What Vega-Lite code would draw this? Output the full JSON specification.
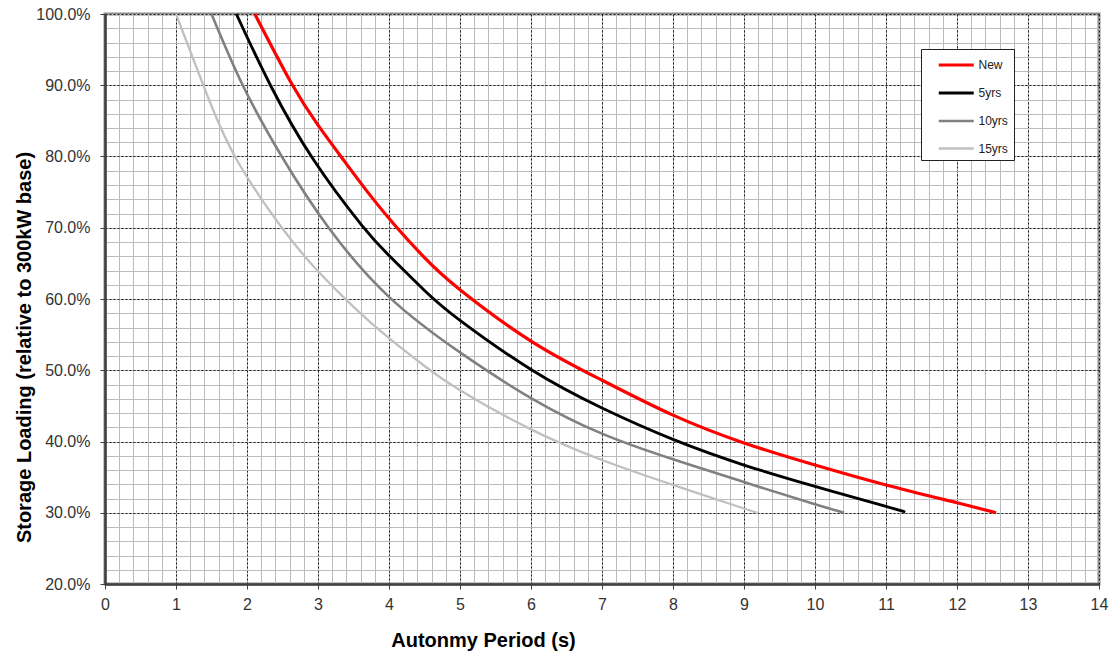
{
  "$schema": "https://vega.github.io/schema/vega-lite/v6.json",
  "width": 994,
  "height": 570,
  "autosize": {"type": "none"},
  "padding": {"left": 105, "top": 14, "right": 15, "bottom": 71},
  "background": "white",
  "config": {
    "font": "Liberation Sans",
    "view": {"stroke": "#8c8c8c", "strokeWidth": 3}
  },
  "data": {
    "values": [
      {"x": 2.11, "y": 1.0, "s": "New"},
      {"x": 2.63, "y": 0.902, "s": "New"},
      {"x": 3.0, "y": 0.844, "s": "New"},
      {"x": 3.36, "y": 0.795, "s": "New"},
      {"x": 3.7, "y": 0.75, "s": "New"},
      {"x": 4.07, "y": 0.705, "s": "New"},
      {"x": 4.5, "y": 0.658, "s": "New"},
      {"x": 5.0, "y": 0.613, "s": "New"},
      {"x": 6.0, "y": 0.541, "s": "New"},
      {"x": 7.0, "y": 0.486, "s": "New"},
      {"x": 8.0, "y": 0.437, "s": "New"},
      {"x": 9.0, "y": 0.398, "s": "New"},
      {"x": 10.0, "y": 0.367, "s": "New"},
      {"x": 11.0, "y": 0.339, "s": "New"},
      {"x": 12.0, "y": 0.314, "s": "New"},
      {"x": 12.55, "y": 0.3, "s": "New"},
      {"x": 1.85, "y": 1.0, "s": "5yrs"},
      {"x": 2.33, "y": 0.9, "s": "5yrs"},
      {"x": 2.94, "y": 0.795, "s": "5yrs"},
      {"x": 3.62, "y": 0.703, "s": "5yrs"},
      {"x": 4.0, "y": 0.661, "s": "5yrs"},
      {"x": 4.5, "y": 0.612, "s": "5yrs"},
      {"x": 5.0, "y": 0.57, "s": "5yrs"},
      {"x": 6.0, "y": 0.501, "s": "5yrs"},
      {"x": 7.0, "y": 0.447, "s": "5yrs"},
      {"x": 8.0, "y": 0.403, "s": "5yrs"},
      {"x": 9.0, "y": 0.367, "s": "5yrs"},
      {"x": 10.0, "y": 0.337, "s": "5yrs"},
      {"x": 11.0, "y": 0.309, "s": "5yrs"},
      {"x": 11.27, "y": 0.301, "s": "5yrs"},
      {"x": 1.5, "y": 1.0, "s": "10yrs"},
      {"x": 1.94, "y": 0.9, "s": "10yrs"},
      {"x": 2.49, "y": 0.8, "s": "10yrs"},
      {"x": 3.15, "y": 0.7, "s": "10yrs"},
      {"x": 4.0, "y": 0.603, "s": "10yrs"},
      {"x": 5.0, "y": 0.525, "s": "10yrs"},
      {"x": 6.0, "y": 0.461, "s": "10yrs"},
      {"x": 7.0, "y": 0.411, "s": "10yrs"},
      {"x": 8.0, "y": 0.375, "s": "10yrs"},
      {"x": 9.0, "y": 0.343, "s": "10yrs"},
      {"x": 10.0, "y": 0.312, "s": "10yrs"},
      {"x": 10.41, "y": 0.3, "s": "10yrs"},
      {"x": 1.0, "y": 1.0, "s": "15yrs"},
      {"x": 1.385, "y": 0.9, "s": "15yrs"},
      {"x": 1.83, "y": 0.8, "s": "15yrs"},
      {"x": 2.5, "y": 0.699, "s": "15yrs"},
      {"x": 3.0, "y": 0.639, "s": "15yrs"},
      {"x": 3.5, "y": 0.589, "s": "15yrs"},
      {"x": 4.0, "y": 0.545, "s": "15yrs"},
      {"x": 4.5, "y": 0.506, "s": "15yrs"},
      {"x": 5.0, "y": 0.472, "s": "15yrs"},
      {"x": 6.0, "y": 0.417, "s": "15yrs"},
      {"x": 7.0, "y": 0.374, "s": "15yrs"},
      {"x": 8.0, "y": 0.339, "s": "15yrs"},
      {"x": 9.0, "y": 0.306, "s": "15yrs"},
      {"x": 9.18, "y": 0.3, "s": "15yrs"}
    ]
  },
  "layer": [
    {
      "mark": {"type": "line", "opacity": 0},
      "encoding": {
        "x": {
          "field": "x", "type": "quantitative",
          "scale": {"domain": [0, 14], "nice": false, "zero": false},
          "axis": {
            "orient": "top", "grid": true, "gridColor": "#bcbcbc", "gridWidth": 1,
            "labels": false, "ticks": false, "domain": false, "title": null,
            "values": [0,0.2,0.4,0.6,0.8,1,1.2,1.4,1.6,1.8,2,2.2,2.4,2.6,2.8,3,3.2,3.4,3.6,3.8,4,4.2,4.4,4.6,4.8,5,5.2,5.4,5.6,5.8,6,6.2,6.4,6.6,6.8,7,7.2,7.4,7.6,7.8,8,8.2,8.4,8.6,8.8,9,9.2,9.4,9.6,9.8,10,10.2,10.4,10.6,10.8,11,11.2,11.4,11.6,11.8,12,12.2,12.4,12.6,12.8,13,13.2,13.4,13.6,13.8,14]
          }
        },
        "y": {
          "field": "y", "type": "quantitative",
          "scale": {"domain": [0.2, 1.0], "nice": false, "zero": false},
          "axis": {
            "orient": "right", "grid": true, "gridColor": "#bcbcbc", "gridWidth": 1,
            "labels": false, "ticks": false, "domain": false, "title": null,
            "values": [0.2,0.22,0.24,0.26,0.28,0.3,0.32,0.34,0.36,0.38,0.4,0.42,0.44,0.46,0.48,0.5,0.52,0.54,0.56,0.58,0.6,0.62,0.64,0.66,0.68,0.7,0.72,0.74,0.76,0.78,0.8,0.82,0.84,0.86,0.88,0.9,0.92,0.94,0.96,0.98,1.0]
          }
        },
        "detail": {"field": "s"}
      }
    },
    {
      "mark": {"type": "line", "interpolate": "natural", "strokeCap": "butt"},
      "encoding": {
        "x": {
          "field": "x", "type": "quantitative",
          "axis": {
            "orient": "bottom", "values": [0,1,2,3,4,5,6,7,8,9,10,11,12,13,14], "format": "d",
            "grid": true, "gridColor": "#1a1a1a", "gridDash": [2, 2], "gridWidth": 1,
            "domainColor": "#404040", "domainWidth": 2.5,
            "tickColor": "#404040", "tickSize": 5, "tickWidth": 1,
            "labelFontSize": 16, "labelColor": "#333333", "labelBaseline": "alphabetic",
            "labelPadding": 20, "labelFlush": false, "labelOverlap": false,
            "title": "Autonmy Period (s)", "titleFontSize": 20, "titleFontWeight": "bold",
            "titleColor": "#000000", "titleX": 378, "titleY": 62, "titleBaseline": "alphabetic",
            "titleAlign": "center"
          }
        },
        "y": {
          "field": "y", "type": "quantitative",
          "axis": {
            "orient": "left", "values": [0.2,0.3,0.4,0.5,0.6,0.7,0.8,0.9,1.0], "format": ".1%",
            "grid": true, "gridColor": "#1a1a1a", "gridDash": [2, 2], "gridWidth": 1,
            "domainColor": "#404040", "domainWidth": 2.5,
            "tickColor": "#404040", "tickSize": 5, "tickWidth": 1,
            "labelFontSize": 16, "labelColor": "#333333", "labelPadding": 10,
            "labelFlush": false, "labelOverlap": false,
            "title": "Storage Loading (relative to 300kW base)", "titleFontSize": 20,
            "titleFontWeight": "bold", "titleColor": "#000000",
            "titleX": -81, "titleY": 333, "titleAngle": -90, "titleBaseline": "middle", "titleAlign": "center"
          }
        },
        "color": {
          "field": "s", "type": "nominal",
          "scale": {"domain": ["New", "5yrs", "10yrs", "15yrs"], "range": ["#ff0000", "#000000", "#808080", "#c0c0c0"]},
          "legend": {
            "orient": "none", "legendX": 816, "legendY": 35, "title": null,
            "symbolType": "M-2,0L2,0", "symbolSize": 306, "symbolStrokeWidth": 2.8,
            "labelFontSize": 12, "labelColor": "#222222", "labelOffset": 11.75,
            "strokeColor": "#222222", "fillColor": "#ffffff", "padding": 5.5,
            "symbolOffset": 19.25, "rowPadding": 11
          }
        },
        "strokeWidth": {
          "field": "s", "type": "nominal",
          "scale": {"domain": ["New", "5yrs", "10yrs", "15yrs"], "range": [3.2, 2.3, 2.3, 2.3]},
          "legend": null
        }
      }
    }
  ],
  "resolve": {"axis": {"x": "independent", "y": "independent"}}
}
